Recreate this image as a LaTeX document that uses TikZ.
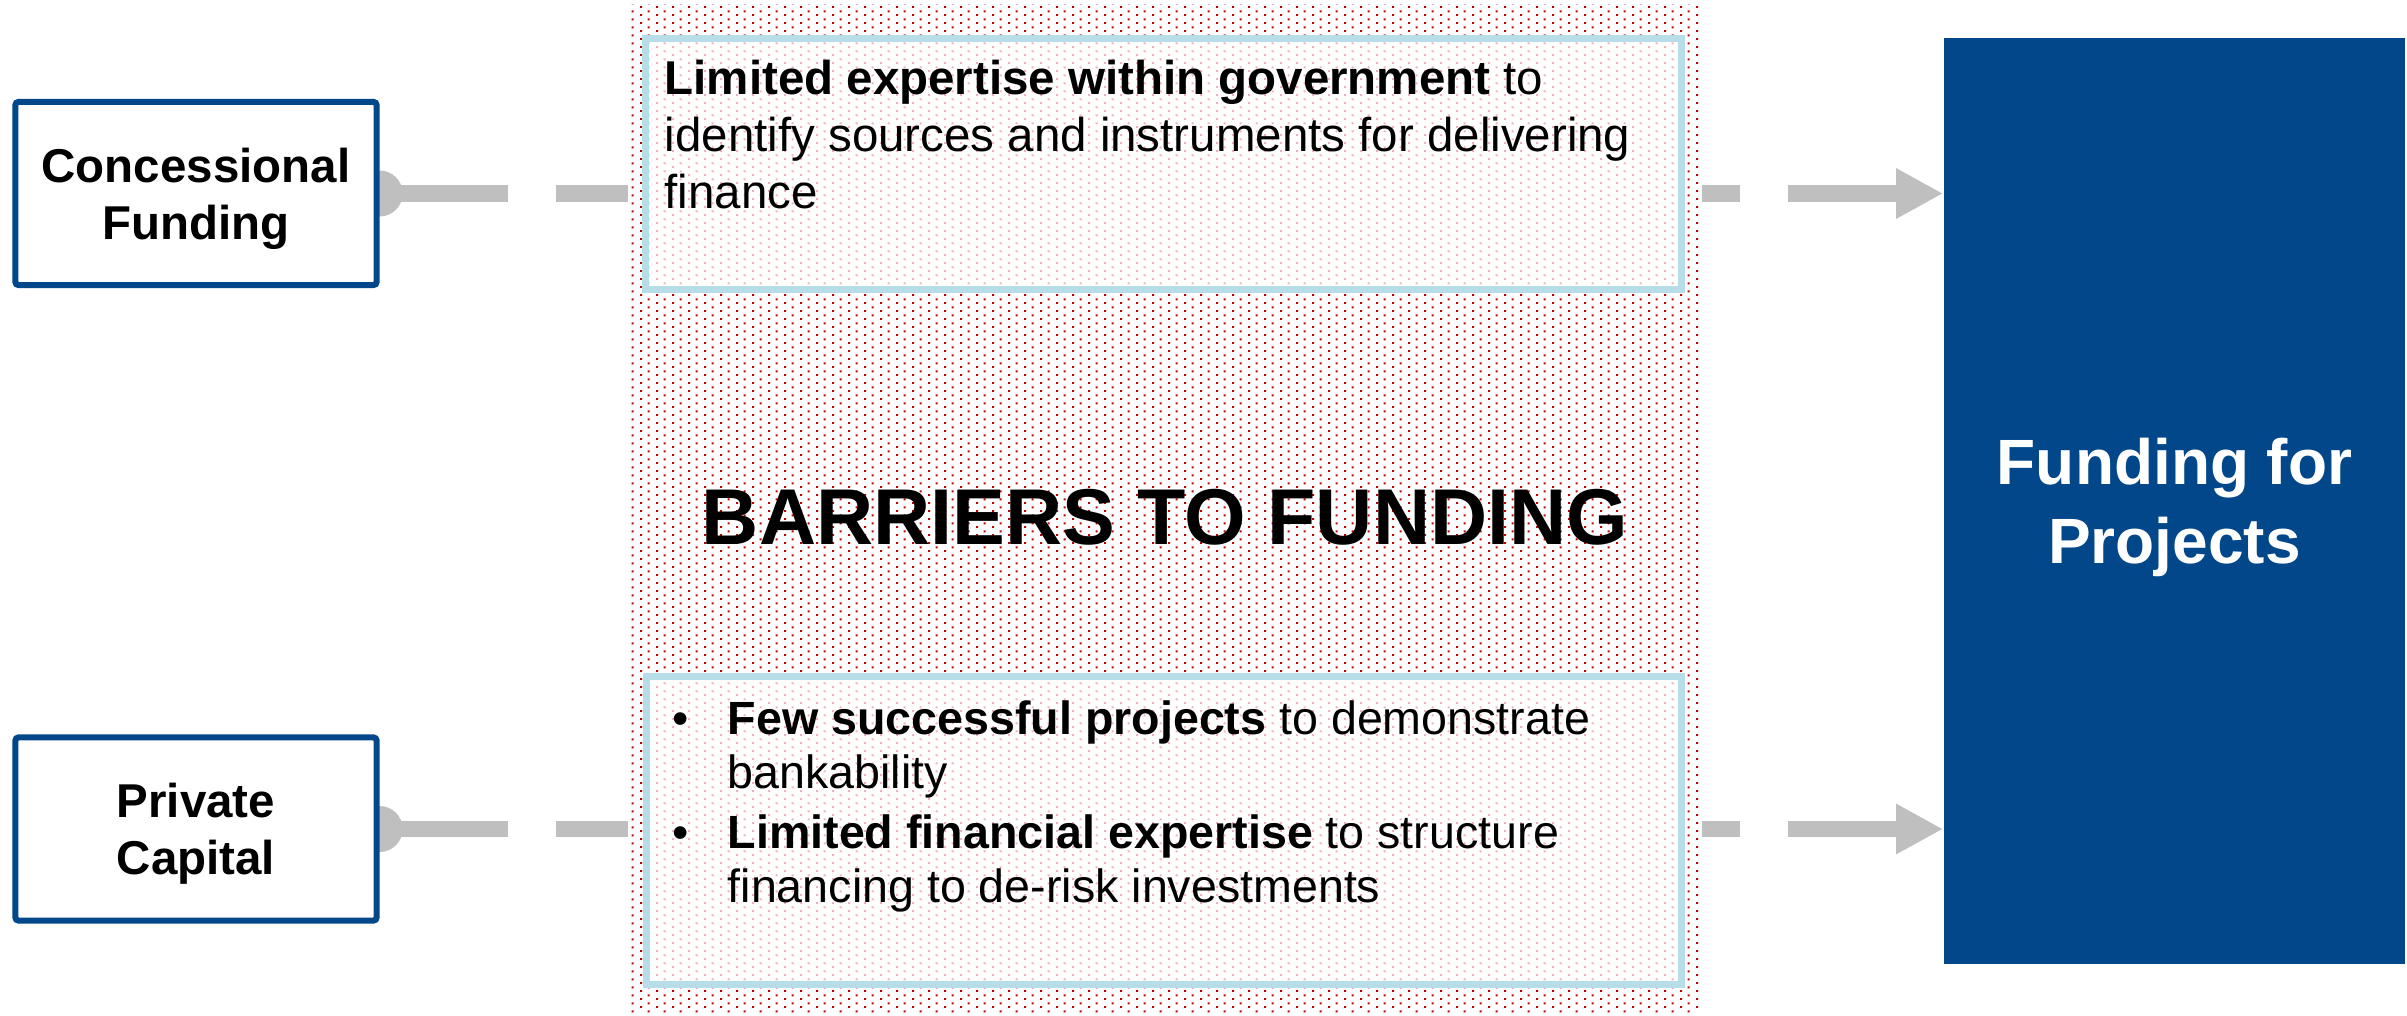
\documentclass[tikz,border=0pt]{standalone}
\usepackage{fontspec}
\setmainfont{Liberation Sans}
\usetikzlibrary{arrows.meta,backgrounds,patterns.meta}
\definecolor{BoxBlue} {RGB}{1,  71, 137}
\definecolor{LinkGrey}{RGB}{191,191,191}
\definecolor{DotRed}  {RGB}{192,  0,  0}
\definecolor{FrameCy} {RGB}{183,221,232}
\tikzdeclarepattern{
  name=paneldots,
  type=uncolored,
  bounding box={(0,0) and (0.16cm,0.08cm)},
  tile size={(0.16cm,0.08cm)},
  code={
    \fill (0cm,0cm) rectangle (0.022cm,0.022cm);
    \fill (0.08cm,0.04cm) rectangle (0.102cm,0.062cm);
  }
}
\tikzset{
  source/.style={draw=BoxBlue,line width=0.06cm,rounded corners=0.03cm,fill=white,
    minimum width=3.61cm,minimum height=1.83cm,align=center,text depth=0pt,
    font=\bfseries\fontsize{13.5}{16.2}\selectfont},
  target/.style={fill=BoxBlue,text=white,minimum width=4.61cm,minimum height=9.26cm,
    align=center,text depth=0pt,font=\bfseries\fontsize{18.2}{22.5}\selectfont},
  link/.style={LinkGrey,line width=0.16cm,dash pattern=on 1.28cm off 0.48cm,
    -{Triangle[length=0.47cm,width=0.47cm]}},
  panel/.style={preaction={fill=white},pattern=paneldots,pattern color=DotRed,
    minimum width=10.74cm,minimum height=10.08cm,inner sep=0},
  gapbox/.style={draw=FrameCy,line width=0.07cm,fill=white,fill opacity=0.7,inner sep=0},
  gaptext/.style={anchor=north west,align=left,inner sep=0,
    font=\fontsize{13.5}{16.2}\selectfont}
}
\begin{document}
\begin{tikzpicture}[x=0.01cm,y=-0.01cm]
  \useasboundingbox (0,0) rectangle (2407,1015);
  \node[source] (conc) at (196,193.5) {Concessional\\Funding};
  \node[source] (priv) at (196,829) {Private\\Capital};
  \node[target] (fund) at (2174.5,501) {Funding for\\Projects};
  \begin{scope}[on background layer]
    \foreach \src in {conc,priv}{
      \fill[LinkGrey] (\src.east) circle (0.23cm);
      \draw[link] (\src.east) -- (\src.east -| fund.west);}
  \end{scope}
  \node[panel] (barrier) at (1165,509) {};
  \node[font=\bfseries\fontsize{22.5}{27}\selectfont] (bartitle) at (1165,517)
    {BARRIERS TO FUNDING};
  \node[gapbox,minimum width=10.36cm,minimum height=2.51cm] (govgap) at (1163.5,164) {};
  \node[gaptext] (govtext) at (664,59)
    {\textbf{Limited expertise within government} to\\
     identify sources and instruments for delivering\\
     finance};
  \node[gapbox,minimum width=10.35cm,minimum height=3.08cm] (fingap) at (1164,830.5) {};
  \node[gaptext,font=\fontsize{13.25}{15.4}\selectfont] (fintext) at (672,700)
    {\makebox[0.55cm][l]{\textbullet}\textbf{Few successful projects} to demonstrate\\
     \hspace*{0.55cm}bankability\\[0.06cm]
     \makebox[0.55cm][l]{\textbullet}\textbf{Limited financial expertise} to structure\\
     \hspace*{0.55cm}financing to de-risk investments};
\end{tikzpicture}
\end{document}
